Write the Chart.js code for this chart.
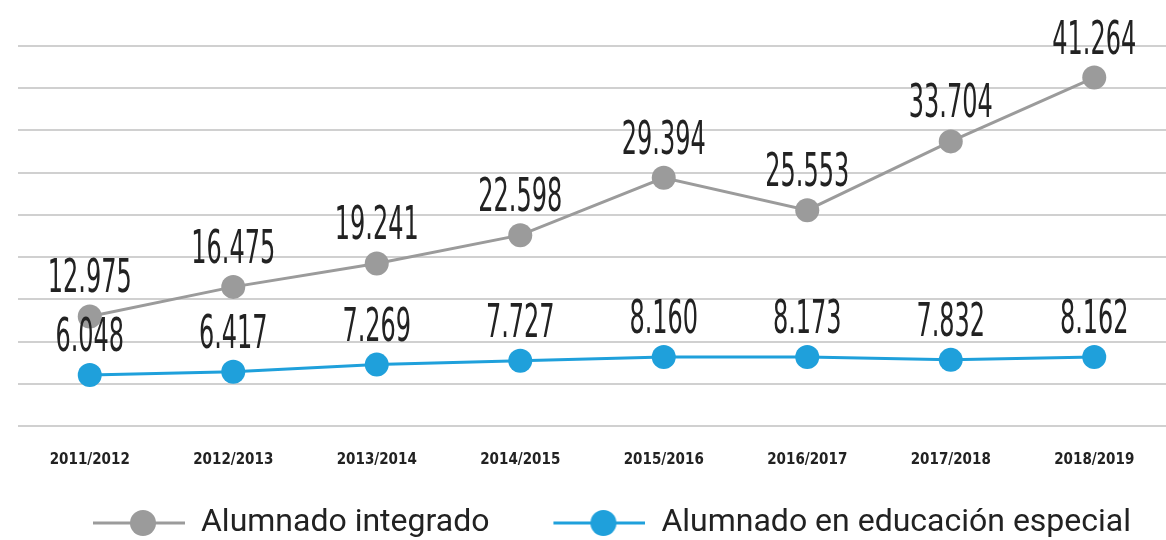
<!DOCTYPE html>
<html>
<head>
<meta charset="utf-8">
<script src="https://cdn.jsdelivr.net/npm/chart.js@4"></script>
<style>
  body { margin: 0; background: #fff; overflow: hidden; }
  #wrap { width: 1166px; height: 540px; }
  canvas { display: block; }
</style>
</head>
<body>
<div id="wrap"><canvas id="lineChart"></canvas></div>
<script>
var cursos = ['2011/2012', '2012/2013', '2013/2014', '2014/2015', '2015/2016', '2016/2017', '2017/2018', '2018/2019'];
var integrado = [12975, 16475, 19241, 22598, 29394, 25553, 33704, 41264];
var especial = [6048, 6417, 7269, 7727, 8160, 8173, 7832, 8162];

var gris = '#9b9b9b';
var azul = '#1fa0db';

// marcador de la leyenda: linea con un circulo, pegado a la derecha del hueco
function marcador(color) {
  var c = document.createElement('canvas');
  c.width = 126;
  c.height = 28;
  var g = c.getContext('2d');
  g.strokeStyle = color;
  g.lineWidth = 3;
  g.beginPath();
  g.moveTo(34, 14);
  g.lineTo(126, 14);
  g.stroke();
  g.fillStyle = color;
  g.beginPath();
  g.arc(84, 14, 13, 0, Math.PI * 2);
  g.fill();
  return c;
}

function miles(v) {
  return Math.floor(v / 1000) + '.' + String(v % 1000).padStart(3, '0');
}

var etiquetas = {
  id: 'etiquetas',
  afterDatasetsDraw: function (chart) {
    var ctx = chart.ctx;
    chart.data.datasets.forEach(function (ds, i) {
      var meta = chart.getDatasetMeta(i);
      meta.data.forEach(function (pt, j) {
        ctx.save();
        ctx.translate(pt.x, pt.y - 36);
        ctx.scale(0.58, 1);
        ctx.font = '46px "DejaVu Sans Condensed"';
        ctx.fillStyle = '#222';
        ctx.textAlign = 'center';
        ctx.textBaseline = 'middle';
        ctx.fillText(miles(ds.data[j]), 0, 0);
        ctx.restore();
      });
    });
  }
};

var contexto = document.getElementById('lineChart');
var grafico = new Chart(contexto, {
  type: 'line',
  data: {
    labels: cursos,
    datasets: [{
      label: 'Alumnado integrado',
      data: integrado,
      borderColor: gris,
      backgroundColor: gris,
      borderWidth: 3,
      pointRadius: 12,
      pointBorderWidth: 0,
      pointBackgroundColor: gris
    }, {
      label: 'Alumnado en educación especial',
      data: especial,
      borderColor: azul,
      backgroundColor: azul,
      borderWidth: 3,
      pointRadius: 12,
      pointBorderWidth: 0,
      pointBackgroundColor: azul
    }]
  },
  options: {
    responsive: true,
    maintainAspectRatio: false,
    animation: false,
    layout: { autoPadding: false, padding: { top: 46, left: 18, right: -6, bottom: -9 } },
    scales: {
      x: {
        offset: true,
        grid: { display: false },
        border: { display: false },
        ticks: {
          color: '#222',
          padding: 17,
          font: { family: 'DejaVu Sans Condensed', weight: 'bold', size: 15 }
        },
        afterFit: function (scale) { scale.height = 51; }
      },
      y: {
        min: 0,
        max: 45000,
        ticks: { display: false, stepSize: 5000 },
        border: { display: false },
        grid: { color: '#d0d0d0', lineWidth: 2, drawTicks: false }
      }
    },
    plugins: {
      tooltip: { enabled: false },
      legend: {
        position: 'bottom',
        labels: {
          usePointStyle: true,
          pointStyleWidth: 126,
          boxHeight: 28,
          padding: 30,
          color: '#222',
          font: { family: 'Roboto', size: 32 },
          generateLabels: function (chart) {
            var items = Chart.defaults.plugins.legend.labels.generateLabels(chart);
            items.forEach(function (it, i) {
              it.pointStyle = marcador(i === 0 ? gris : azul);
            });
            return items;
          }
        }
      }
    }
  },
  plugins: [etiquetas]
});
</script>
</body>
</html>
